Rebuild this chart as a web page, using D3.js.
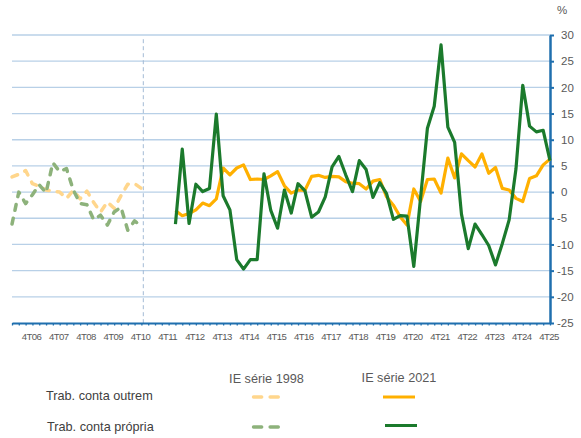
<!DOCTYPE html>
<html>
<head>
<meta charset="utf-8">
<script src="https://d3js.org/d3.v7.min.js"></script>
<style>
  body { margin: 0; background: #fff; }
  text { font-family: "Liberation Sans", Arial, sans-serif; }
</style>
</head>
<body>
<script>
// quarters shown on the axis: 1T06 .. 4T25
var years = ["06","07","08","09","10","11","12","13","14","15","16","17","18","19","20","21","22","23","24","25"];
var quarters = [];
years.forEach(function (yy) {
    for (var q = 1; q <= 4; q++) quarters.push(q + "T" + yy);
});
var xTickLabels = ["4T06","4T07","4T08","4T09","4T10","4T11","4T12","4T13","4T14","4T15",
                   "4T16","4T17","4T18","4T19","4T20","4T21","4T22","4T23","4T24","4T25"];
var yTicks = [-25, -20, -15, -10, -5, 0, 5, 10, 15, 20, 25, 30];

// IE série 1998 : 1T06 .. 4T10 (taxa de variação homóloga, %)
var start1998 = "1T06";
var outrem1998  = [2.9, 3.4, 4.1, 1.6, 1.1, 0.4, 0.2, 0.0, -1.2, 0.3, -1.3, 0.2, -2.0, -3.8, -1.9, -3.1, -0.7, 1.5, 1.6, 0.7];
var propria1998 = [-6.1, 0.0, -2.2, -0.5, 1.4, -0.1, 5.6, 3.9, 4.5, 0.4, -2.2, -2.4, -5.3, -4.4, -6.3, -3.8, -2.9, -7.3, -5.5, -6.5];

// IE série 2021 : 1T12 .. 4T25
var start2021 = "1T12";
var outrem2021 = [-3.5, -4.5, -4.1, -3.4, -2.1, -2.6, -1.3, 4.6, 3.3, 4.6, 5.2, 2.4, 2.5, 2.4, 3.1, 3.9,
                  1.2, -0.2, 0.4, 0.3, 3.0, 3.2, 2.8, 3.0, 2.9, 2.0, 1.7, 1.6, 0.6, 2.1, 2.4, -0.9,
                  -2.5, -4.7, -6.3, 0.6, -1.8, 2.4, 2.5, -0.2, 6.5, 2.7, 7.3, 6.0, 4.8, 7.3, 3.6, 4.7,
                  0.7, 0.4, -1.2, -1.8, 2.6, 3.1, 5.2, 6.3];
var propria2021 = [-6.1, 8.2, -6.0, 1.5, 0.1, 0.7, 14.9, -0.7, -3.4, -12.9, -14.7, -12.9, -12.9, 3.5, -3.5, -6.9,
                   0.4, -4.0, 1.6, 0.3, -4.8, -3.8, -0.9, 4.8, 6.8, 3.3, 0.1, 6.0, 4.3, -1.0, 1.8, -0.3,
                   -5.2, -4.5, -4.6, -14.2, -1.0, 12.2, 16.4, 28.1, 12.4, 9.5, -4.2, -10.8, -6.1, -8.1, -10.2, -13.9,
                   -9.8, -5.3, 4.4, 20.4, 12.6, 11.5, 11.8, 6.0];

var legendRows = ["Trab. conta outrem", "Trab. conta própria"];
var legendCols = ["IE série 1998", "IE série 2021"];

var colOutrem = "#ffb000", colPropria = "#1b7a2c";
var colOutremOld = "#ffd68c", colPropriaOld = "#8db27b";
var axisBlue = "#1f6fae", gridBlue = "#b8d0e7", textGrey = "#595959";

var width = 581, height = 438;
var svg = d3.select("body").append("svg").attr("width", width).attr("height", height);

var x = d3.scalePoint().domain(quarters).range([12, 550]);
var y = d3.scaleLinear().domain([-25, 30]).range([323, 35]);

// horizontal gridlines
svg.append("g").selectAll("line")
    .data(yTicks.filter(function (v) { return v > -25; }))
    .enter().append("line")
    .attr("x1", x(quarters[0])).attr("x2", x(quarters[quarters.length - 1]))
    .attr("y1", function (d) { return y(d); }).attr("y2", function (d) { return y(d); })
    .attr("stroke", gridBlue).attr("stroke-width", 1.3);

// break between the two series
var xBreak = x("4T10") + x.step() * 0.28;
svg.append("line")
    .attr("x1", xBreak).attr("x2", xBreak)
    .attr("y1", y(29.2)).attr("y2", y(-25))
    .attr("stroke", "#a3bbd5").attr("stroke-width", 1).attr("stroke-dasharray", "4,3");

// bottom axis with a tick every quarter
var xAxis = svg.append("g").attr("transform", "translate(0," + y(-25) + ")")
    .call(d3.axisBottom(x).tickSize(2.5).tickSizeOuter(0).tickFormat(""));
xAxis.select(".domain").attr("stroke", axisBlue).attr("stroke-width", 2);
xAxis.selectAll(".tick line").attr("stroke", axisBlue).attr("stroke-width", 1.3);

svg.append("g").selectAll("text")
    .data(xTickLabels)
    .enter().append("text")
    .attr("x", function (d) { return x(d) - 1; })
    .attr("y", 339.5)
    .attr("text-anchor", "middle")
    .attr("font-size", 9.6).attr("letter-spacing", -0.6)
    .attr("fill", textGrey)
    .text(function (d) { return d; });

// right value axis
var yAxis = svg.append("g").attr("transform", "translate(" + x(quarters[quarters.length - 1]) + ",0)")
    .call(d3.axisRight(y).tickValues(yTicks).tickSize(4).tickSizeOuter(0).tickFormat(""));
yAxis.select(".domain").attr("stroke", axisBlue).attr("stroke-width", 2.5);
yAxis.selectAll(".tick line").attr("stroke", axisBlue).attr("stroke-width", 2);

svg.append("g").selectAll("text")
    .data(yTicks)
    .enter().append("text")
    .attr("x", function (d) { return d < 0 ? 557 : 561; })
    .attr("y", function (d) { return y(d); })
    .attr("dy", "0.36em")
    .attr("font-size", 11.5)
    .attr("fill", textGrey)
    .text(function (d) { return d; });

svg.append("text").attr("x", 557).attr("y", 14)
    .attr("font-size", 11.5).attr("fill", textGrey).text("%");

// series
function toPoints(startQ, values) {
    var s = quarters.indexOf(startQ);
    return values.map(function (v, i) { return {q: quarters[s + i], v: v}; });
}
var line = d3.line()
    .x(function (d) { return x(d.q); })
    .y(function (d) { return y(d.v); });

function drawSeries(data, color, dashed) {
    var p = svg.append("path").datum(data)
        .attr("d", line)
        .attr("fill", "none")
        .attr("stroke", color)
        .attr("stroke-linejoin", "round");
    if (dashed) {
        p.attr("stroke-width", 3.5).attr("stroke-linecap", "round").attr("stroke-dasharray", "6,8");
    } else {
        p.attr("stroke-width", 3.2);
    }
}
drawSeries(toPoints(start1998, outrem1998), colOutremOld, true);
drawSeries(toPoints(start1998, propria1998), colPropriaOld, true);
drawSeries(toPoints(start2021, outrem2021), colOutrem, false);
drawSeries(toPoints(start2021, propria2021), colPropria, false);

// legend
var legend = svg.append("g");
legend.append("text").attr("x", 266.5).attr("y", 382.5).attr("text-anchor", "middle")
    .attr("font-size", 12.7).attr("fill", textGrey).text(legendCols[0]);
legend.append("text").attr("x", 399).attr("y", 381.5).attr("text-anchor", "middle")
    .attr("font-size", 12.7).attr("fill", textGrey).text(legendCols[1]);
legend.append("text").attr("x", 46).attr("y", 399.5)
    .attr("font-size", 12.7).attr("fill", "#404040").text(legendRows[0]);
legend.append("text").attr("x", 47).attr("y", 431)
    .attr("font-size", 12.7).attr("fill", "#404040").text(legendRows[1]);

function legendLine(x1, x2, yy, color, dashed) {
    var l = legend.append("line")
        .attr("x1", x1).attr("x2", x2).attr("y1", yy).attr("y2", yy)
        .attr("stroke", color).attr("stroke-linecap", "round");
    if (dashed) l.attr("stroke-width", 3.4).attr("stroke-dasharray", "8.2,8.4");
    else l.attr("stroke-width", 3).attr("stroke-linecap", "butt");
}
legendLine(253.5, 280, 397, colOutremOld, true);
legendLine(253.5, 280, 427, colPropriaOld, true);
legendLine(383, 415, 397, colOutrem, false);
legendLine(385, 417, 425.5, colPropria, false);
</script>
</body>
</html>
